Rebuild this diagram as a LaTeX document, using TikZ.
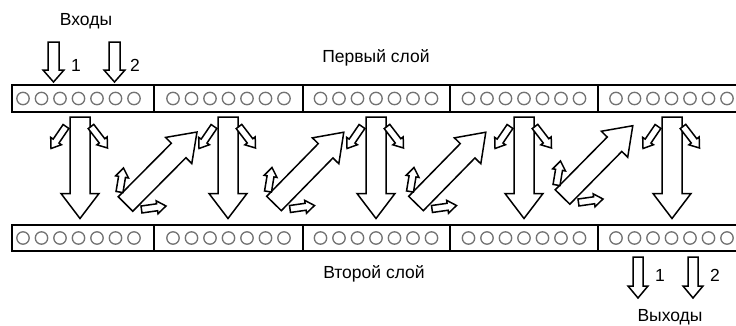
\documentclass[tikz,border=0pt]{standalone}
\usepackage{fontspec}
\setmainfont{Liberation Sans}
\newcommand\barrow[7]{%
  \pgfmathsetmacro\myang{atan2((#4)-(#2),(#3)-(#1))}%
  \pgfmathsetmacro\mylen{veclen((#3)-(#1),(#4)-(#2))}%
  \draw[blk,shift={(#1,#2)},rotate=\myang] (0,-#5/2) -- ({\mylen-#7},-#5/2) -- ({\mylen-#7},-#6/2) -- (\mylen,0) -- ({\mylen-#7},#6/2) -- ({\mylen-#7},#5/2) -- (0,#5/2) -- cycle;}
\tikzset{
  blk/.style={draw=black,fill=white,line width=1.5pt,line join=miter},
  band/.style={draw=black,line width=2.4pt},
  divider/.style={draw=black,line width=1.6pt},
  cell/.style={draw=black!55,line width=1.3pt},
  lbl/.style={font=\fontsize{17.5}{20}\selectfont,inner sep=0pt}
}
\begin{document}
\begin{tikzpicture}[x=1pt,y=1pt]
\useasboundingbox (0,0) rectangle (736,325);
\clip (0,0) rectangle (736,325);
% bands
\foreach \yb/\yt in {213/240,74/100}{
  \draw[band] (12,\yb) rectangle (760,\yt);
  \foreach \xd in {154,303,450,598}{\draw[divider] (\xd,\yb) -- (\xd,\yt);}
  \foreach \cx in {78.5,228.5,376,524,671.5}{
    \foreach \k in {-3,...,3}{\draw[cell] ({\cx+18.5*\k},{(\yb+\yt)/2}) circle [radius=6.2pt];}
  }
}
% big vertical arrows and side arrows
\foreach \c in {80,228,376,524,672}{
  \barrow{\c}{208}{\c}{106.5}{20}{38}{25}
  \barrow{\c-14}{198.5}{\c-29}{176.5}{7}{13}{9}
  \barrow{\c+11}{198.5}{\c+27.5}{177}{7}{13}{9}
}
% diagonal arrows with small companions
\foreach \tx/\ty/\px/\py in {125.5/121/197/193, 274/121.5/344/193, 416/121.5/486/193, 562.5/128/633/199.5}{
  \barrow{\tx}{\ty}{\px}{\py}{20.5}{37}{26}
  \barrow{\tx-6}{\ty+12}{\tx-2}{\ty+36}{7}{13}{9}
  \barrow{\tx+16}{\ty-5.5}{\tx+40.5}{\ty-2}{7}{13}{9}
}
% inputs
\barrow{53.5}{283}{53.5}{243}{11}{21}{12}
\barrow{114.5}{283}{114.5}{243}{11}{21}{12}
\node[lbl] (in1) at (76,260) {1};
\node[lbl] (in2) at (135,260) {2};
\node[lbl] (inputs) at (86,304) {Входы};
% outputs
\barrow{638}{68}{638}{27}{10}{20}{12}
\barrow{693}{68}{693}{27}{10}{20}{12}
\node[lbl] (out1) at (660,50) {1};
\node[lbl] (out2) at (715,50) {2};
\node[lbl] (outputs) at (670,8) {Выходы};
% layer labels
\node[lbl] (layer1) at (376,267) {Первый слой};
\node[lbl] (layer2) at (374,51) {Второй слой};
\end{tikzpicture}
\end{document}
